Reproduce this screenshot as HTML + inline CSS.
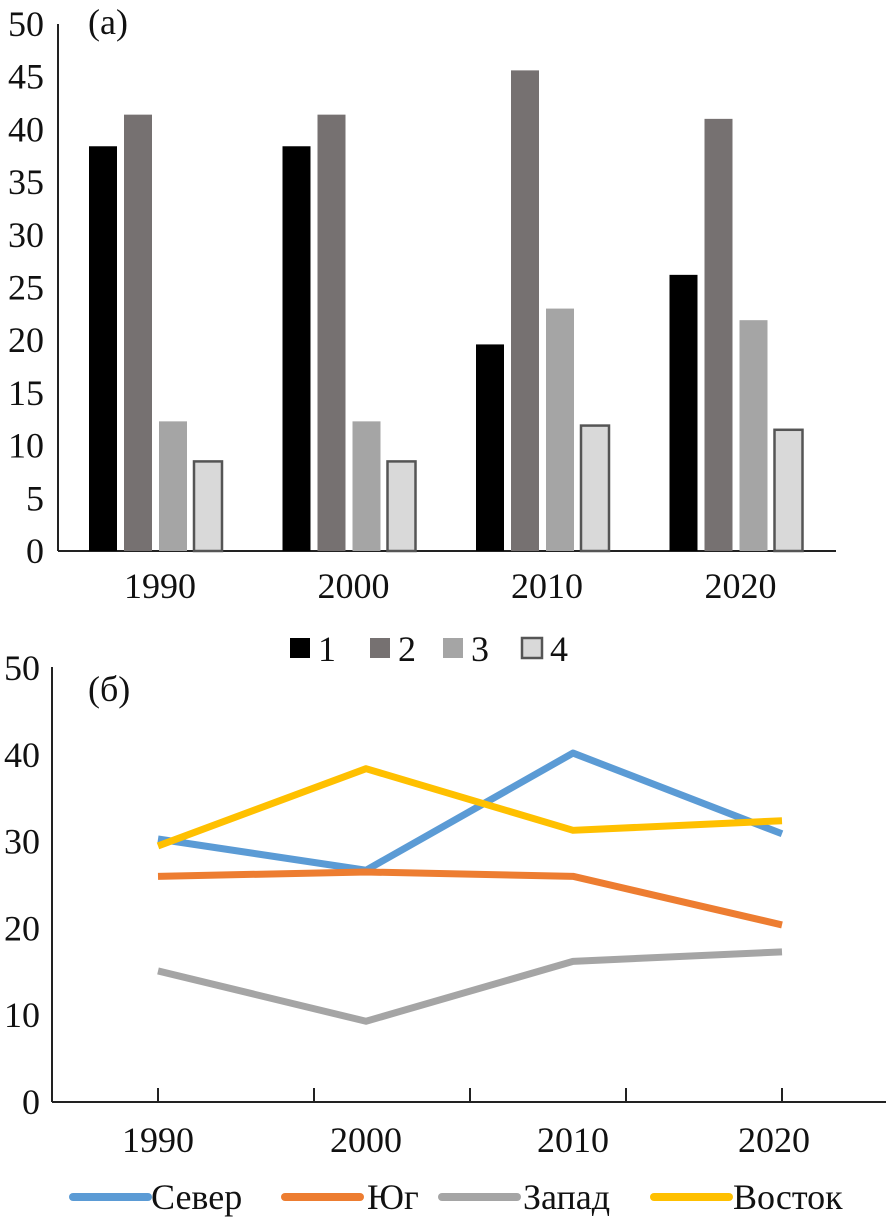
<!DOCTYPE html>
<html><head><meta charset="utf-8"><style>
html,body{margin:0;padding:0;background:#fff;}
svg{display:block;font-family:"Liberation Serif",serif;}
</style></head><body>
<svg id="c" width="886" height="1223" viewBox="0 0 886 1223"></svg>
<script>
const years = ["1990","2000","2010","2020"];
const s1 = [38.4, 38.4, 19.6, 26.2];
const s2 = [41.4, 41.4, 45.6, 41.0];
const s3 = [12.3, 12.3, 23.0, 21.9];
const s4 = [8.5, 8.5, 11.9, 11.5];
const topTicks = [0,5,10,15,20,25,30,35,40,45,50];
const botTicks = [0,10,20,30,40,50];
const sever = [30.3, 26.7, 40.2, 30.9];
const yug = [26.0, 26.5, 26.0, 20.4];
const zapad = [15.1, 9.3, 16.2, 17.3];
const vostok = [29.5, 38.4, 31.3, 32.4];

const NS="http://www.w3.org/2000/svg";
const svg=document.getElementById('c');
function mk(tag,attrs,parent,name){const e=document.createElementNS(NS,tag);for(const k in attrs)e.setAttribute(k,attrs[k]);


(parent||svg).appendChild(e);return e;}
function txt(x,y,s,anchor,size,name){const t=mk('text',{x:x,y:y,'text-anchor':anchor,'font-size':size,fill:'#111','dominant-baseline':'central'},svg,name);t.textContent=s;return t;}

// Top chart
const tY=v=>551-v*10.54;
const gX=i=>155+i*193.5;
mk('line',{x1:58,y1:24,x2:58,y2:551,stroke:'#222','stroke-width':2},svg,'top-y-axis');
mk('line',{x1:58,y1:551,x2:836,y2:551,stroke:'#222','stroke-width':2},svg,'top-x-axis');
topTicks.forEach(v=>txt(44,tY(v),String(v),'end',36,'top-y-tick-label'));
txt(88,22,'(a)','start',36,'panel-label-a');
const series=[[s1,'#000','none'],[s2,'#767171','none'],[s3,'#a5a5a5','none'],[s4,'#d9d9d9','#555']];
const offs=[-52,-17,18,53];
years.forEach((y,i)=>{
  series.forEach((s,j)=>{
    const v=s[0][i];
    mk('rect',{x:gX(i)+offs[j]-14,y:tY(v),width:28,height:551-tY(v),fill:s[1],stroke:s[2],'stroke-width':s[2]=='none'?0:2.5},svg,'bar-'+y+'-s'+(j+1));
  });
  txt(gX(i)+5,586,y,'middle',36,'top-x-tick-label');
});
const legX=[290,370,443,522];
legX.forEach((x,j)=>{
  mk('rect',{x:x,y:638,width:20,height:20,fill:series[j][1],stroke:series[j][2],'stroke-width':series[j][2]=='none'?0:2.5},svg,'legend-swatch-'+(j+1));
  txt(x+28,649,String(j+1),'start',36,'legend-label-'+(j+1));
});

// Bottom chart
const bY=v=>1102-v*8.68;
const px=[158,366,573,782];
mk('line',{x1:52,y1:667,x2:52,y2:1102,stroke:'#222','stroke-width':2},svg,'bottom-y-axis');
mk('line',{x1:52,y1:1102,x2:886,y2:1102,stroke:'#222','stroke-width':2},svg,'bottom-x-axis');
[158,314,470,626,782].forEach(x=>mk('line',{x1:x,y1:1088,x2:x,y2:1102,stroke:'#222','stroke-width':2},svg,'bottom-x-tick'));
botTicks.forEach(v=>txt(40,bY(v),String(v),'end',36,'bottom-y-tick-label'));
txt(88,689,'(б)','start',36,'panel-label-b');
[158,366,573,774].forEach((x,i)=>txt(x,1140,years[i],'middle',36,'bottom-x-tick-label'));
const lines=[[sever,'#5b9bd5','Север'],[yug,'#ed7d31','Юг'],[zapad,'#a5a5a5','Запад'],[vostok,'#ffc000','Восток']];
lines.forEach(l=>{
  const d=l[0].map((v,i)=>(i?'L':'M')+px[i]+','+bY(v)).join(' ');
  mk('path',{d:d,fill:'none',stroke:l[1],'stroke-width':7,'stroke-linejoin':'round'},svg,'line-'+l[2]);
});
const lx=[[73,151],[285,367],[442,523],[654,733]];
lines.forEach((l,j)=>{
  mk('line',{x1:lx[j][0],y1:1197,x2:lx[j][0]+75,y2:1197,stroke:l[1],'stroke-width':8,'stroke-linecap':'round'},svg,'legend-line-'+l[2]);
  txt(lx[j][1],1197,l[2],'start',36,'legend-label-'+l[2]);
});
</script>
</body></html>
